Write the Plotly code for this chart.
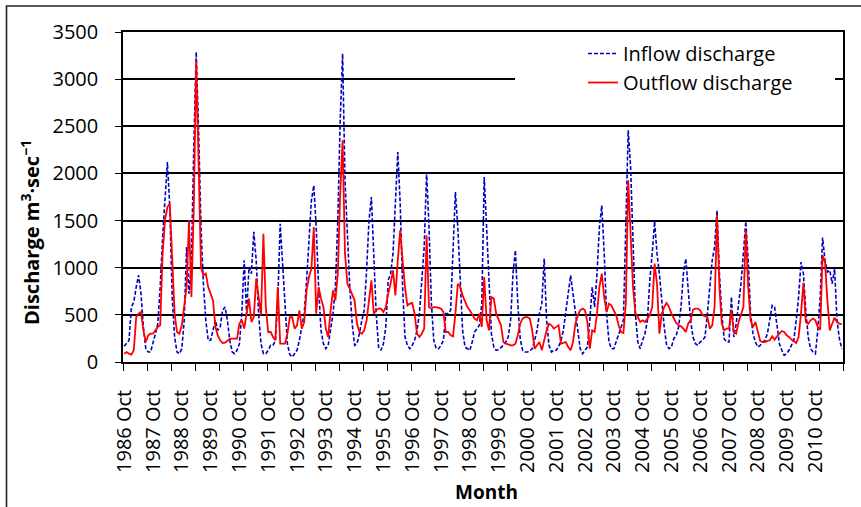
import plotly.graph_objects as go

# Monthly series, water years Oct..Sep, 1986 Oct .. 2011 Sep
inflow = [
    166, 195, 230, 583, 636, 795, 920, 725, 370, 140, 106, 106,        # 1986
    195, 300, 406, 795, 1325, 1785, 2120, 1644, 690, 265, 106, 88,     # 1987
    141, 442, 1220, 725, 1078, 2280, 3288, 2457, 1432, 830, 442, 230,  # 1988
    230, 336, 442, 336, 371, 548, 583, 442, 230, 106, 88, 124,         # 1989
    194, 513, 1078, 513, 1007, 937, 1380, 1078, 513, 194, 88, 88,      # 1990
    124, 177, 177, 230, 654, 1467, 1008, 513, 194, 78, 53, 88,         # 1991
    124, 230, 371, 513, 866, 1290, 1714, 1873, 1432, 795, 336, 194,    # 1992
    141, 177, 336, 513, 795, 1502, 2563, 3270, 1927, 1326, 795, 406,   # 1993
    177, 194, 300, 442, 548, 972, 1502, 1750, 1149, 513, 159, 124,     # 1994
    194, 371, 866, 937, 1149, 1644, 2227, 1679, 795, 265, 177, 141,    # 1995
    177, 230, 336, 513, 866, 1220, 2015, 1432, 619, 230, 141, 141,     # 1996
    177, 230, 513, 513, 548, 1149, 1803, 1432, 795, 336, 159, 141,     # 1997
    124, 212, 318, 354, 389, 619, 1962, 1432, 795, 300, 159, 124,      # 1998
    131, 152, 177, 212, 265, 442, 937, 1184, 619, 247, 124, 106,       # 1999
    106, 117, 141, 230, 336, 513, 619, 1096, 442, 177, 106, 124,       # 2000
    124, 159, 230, 336, 513, 725, 919, 725, 513, 300, 141, 88,         # 2001
    124, 159, 442, 795, 583, 937, 1432, 1660, 1149, 513, 212, 141,     # 2002
    141, 212, 300, 371, 442, 1432, 2457, 2068, 1149, 513, 212, 141,    # 2003
    230, 300, 442, 866, 1149, 1490, 1149, 937, 654, 371, 177, 141,     # 2004
    159, 247, 283, 371, 583, 937, 1096, 795, 442, 265, 194, 177,       # 2005
    212, 230, 265, 513, 795, 1078, 1220, 1608, 937, 513, 247, 212,     # 2006
    212, 690, 265, 406, 619, 830, 1149, 1490, 1078, 513, 300, 212,     # 2007
    159, 177, 212, 230, 300, 442, 600, 583, 371, 194, 124, 71,         # 2008
    88, 124, 177, 230, 442, 689, 1060, 937, 548, 265, 141, 106,        # 2009
    88, 336, 689, 1320, 1078, 954, 972, 830, 990, 442, 247, 141,       # 2010
]
outflow = [
    88, 106, 88, 78, 124, 477, 513, 530, 336, 212, 283, 300,           # 1986
    300, 336, 371, 389, 1149, 1502, 1644, 1680, 1078, 513, 318, 300,   # 1987
    389, 619, 795, 1502, 690, 1644, 3200, 2103, 1007, 919, 937, 795,   # 1988
    725, 654, 371, 283, 230, 201, 205, 223, 244, 247, 247, 247,        # 1989
    406, 442, 354, 513, 672, 424, 477, 884, 654, 495, 1361, 583,       # 1990
    318, 318, 265, 230, 795, 194, 194, 194, 300, 477, 477, 354,        # 1991
    389, 548, 354, 424, 760, 901, 990, 1432, 513, 795, 672, 583,       # 1992
    354, 265, 548, 760, 654, 937, 1785, 2351, 1149, 830, 778, 707,     # 1993
    654, 406, 318, 300, 336, 442, 654, 866, 513, 548, 566, 566,        # 1994
    530, 583, 725, 830, 972, 707, 1078, 1396, 1078, 795, 601, 619,     # 1995
    626, 513, 300, 265, 300, 354, 1343, 583, 566, 583, 583, 576,       # 1996
    566, 530, 318, 318, 283, 272, 513, 830, 795, 707, 636, 583,        # 1997
    548, 495, 460, 442, 513, 371, 901, 442, 336, 689, 672, 513,        # 1998
    460, 389, 212, 194, 187, 177, 177, 194, 283, 406, 460, 477,        # 1999
    477, 460, 336, 141, 177, 212, 124, 230, 336, 406, 389, 354,        # 2000
    371, 389, 194, 201, 212, 159, 124, 212, 406, 495, 548, 566,        # 2001
    548, 424, 141, 336, 318, 513, 795, 937, 689, 530, 619, 601,        # 2002
    555, 495, 389, 318, 307, 619, 1927, 1432, 795, 513, 477, 424,      # 2003
    442, 424, 460, 495, 583, 1043, 830, 300, 513, 583, 626, 583,       # 2004
    513, 460, 414, 389, 378, 354, 318, 406, 442, 555, 566, 566,        # 2005
    548, 495, 484, 477, 354, 389, 583, 1555, 795, 406, 336, 354,       # 2006
    354, 548, 318, 300, 424, 505, 583, 1396, 795, 442, 371, 424,       # 2007
    336, 223, 212, 212, 223, 230, 272, 237, 272, 307, 329, 318,        # 2008
    283, 265, 237, 223, 201, 265, 513, 840, 424, 406, 442, 460,        # 2009
    442, 371, 343, 1130, 1061, 654, 336, 406, 470, 424, 406, 400,      # 2010
]
years = list(range(1986, 2011))
tick_labels = [f"{y} Oct" for y in years]
month_index = list(range(len(inflow)))
tick_positions = [12 * k for k in range(len(years))]
minor_positions = [k * 10 - 0.5 for k in range(len(inflow) // 10 + 1)]

FONT = "Open Sans"

fig = go.Figure()
fig.add_trace(go.Scatter(
    x=month_index, y=inflow, mode="lines", name="Inflow discharge",
    line=dict(color="#0000C0", width=1.6, dash="4px,2px"),
))
fig.add_trace(go.Scatter(
    x=month_index, y=outflow, mode="lines", name="Outflow discharge",
    line=dict(color="#FF0000", width=1.8),
))

W, H = 861, 507
L, R, T, B = 123, 18, 32, 145
pw, ph = W - L - R, H - T - B

def px(x):
    return (x - L) / pw

def py(y):
    return (H - B - y) / ph

fig.update_layout(
    width=W, height=H,
    margin=dict(l=L, r=R, t=T, b=B),
    paper_bgcolor="white", plot_bgcolor="white",
    font=dict(family=FONT, size=19, color="black"),
    showlegend=True,
    legend=dict(
        x=px(583), y=py(34), xanchor="left", yanchor="top",
        bgcolor="rgba(0,0,0,0)", font=dict(family=FONT, size=20, color="black"),
        tracegroupgap=0,
    ),
    xaxis=dict(
        range=[-0.5, len(inflow) - 0.5],
        tickmode="array", tickvals=tick_positions, ticktext=tick_labels,
        tickangle=-90, ticks="", ticklabelstandoff=18,
        showgrid=False, zeroline=False,
        showline=True, linecolor="black", linewidth=1.5, mirror=True,
        tickfont=dict(family=FONT, size=20, color="black"),
        minor=dict(tickmode="array", tickvals=minor_positions, ticks="outside",
                   ticklen=7, tickwidth=1.3, tickcolor="black", showgrid=False),
    ),
    yaxis=dict(
        range=[0, 3500], tickmode="linear", tick0=0, dtick=500,
        ticks="outside", ticklen=6, tickwidth=1.3, tickcolor="black",
        ticklabelstandoff=13,
        showgrid=True, gridcolor="black", gridwidth=1.5,
        zeroline=False,
        showline=True, linecolor="black", linewidth=1.5, mirror=True,
        tickfont=dict(family=FONT, size=20, color="black"),
    ),
    shapes=[
        # white legend box hiding gridline
        dict(type="rect", xref="paper", yref="paper",
             x0=px(515), x1=px(835), y0=py(100), y1=py(34),
             fillcolor="white", line=dict(width=0), layer="above"),
        # outer chart frame
        dict(type="rect", xref="paper", yref="paper",
             x0=px(6.5), x1=px(880), y0=py(530), y1=py(6),
             fillcolor="rgba(0,0,0,0)", line=dict(color="#222222", width=1.6), layer="above"),
    ],
    annotations=[
        dict(text="<b>Discharge m<sup>3</sup>·sec<sup>−1</sup></b>",
             xref="paper", yref="paper", x=px(30), y=py(232),
             xanchor="center", yanchor="middle", textangle=-90, showarrow=False,
             font=dict(family=FONT, size=20, color="black")),
        dict(text="<b>Month</b>", xref="paper", yref="paper",
             x=px(486), y=py(492), xanchor="center", yanchor="middle",
             showarrow=False, font=dict(family=FONT, size=19, color="black")),
    ],
)

fig.write_html("out.html")
